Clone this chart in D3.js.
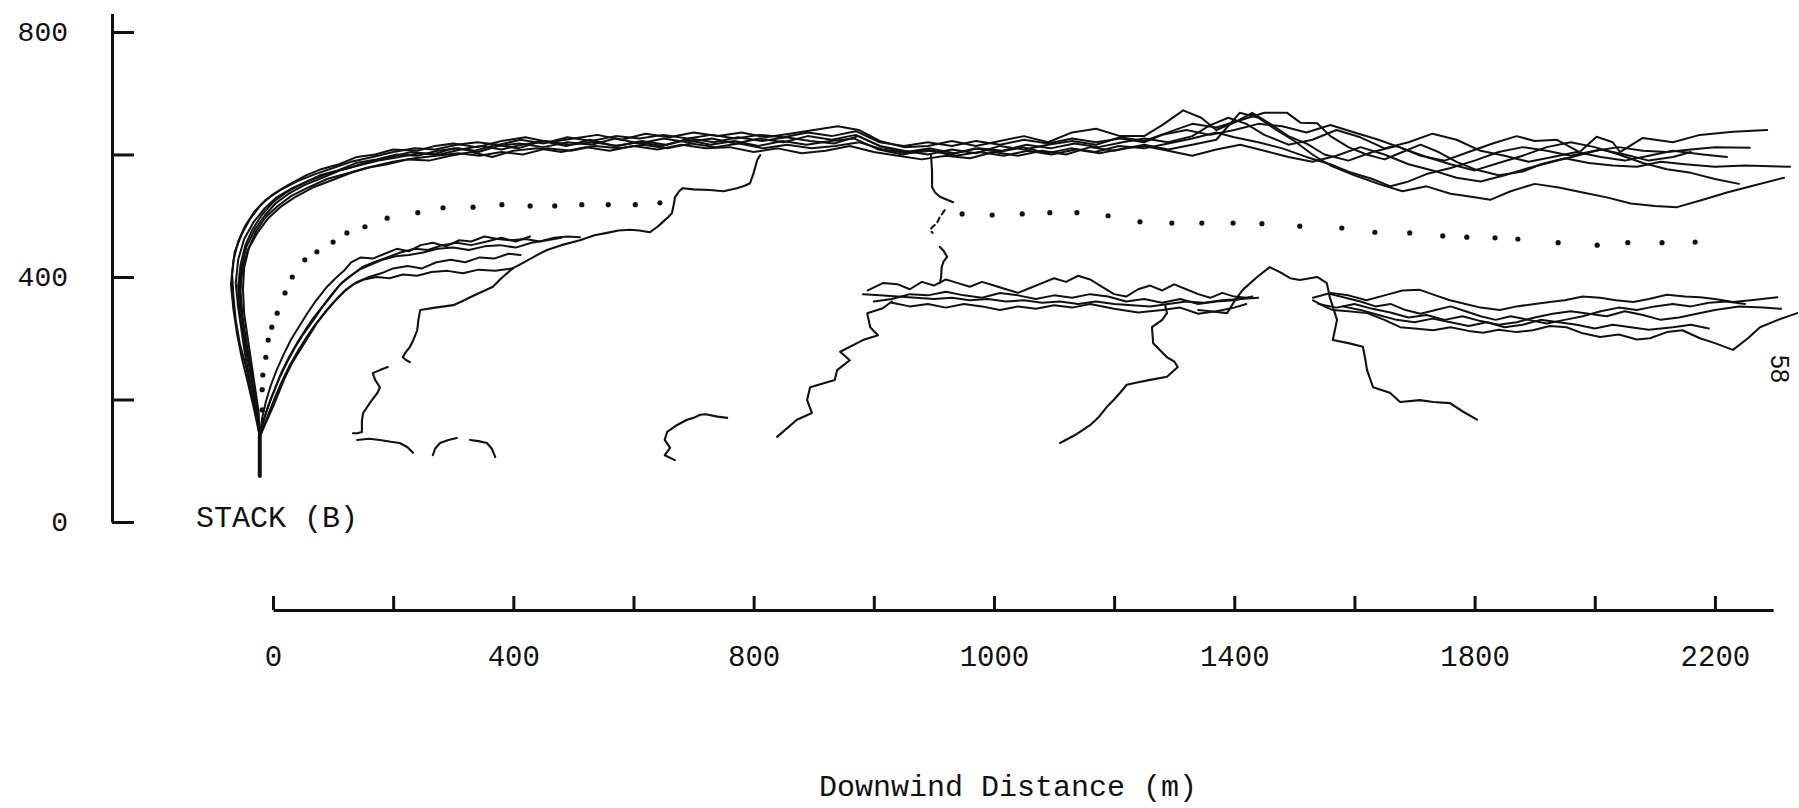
<!DOCTYPE html>
<html><head><meta charset="utf-8">
<script src="https://cdn.jsdelivr.net/npm/d3@7"></script>
<style>body{margin:0;background:#fff;} svg{display:block;background:#fff}</style>
</head><body><svg id="chart" width="1799" height="808"></svg>
<script>
// ---- axis ticks ----
const xTickValues = [0,200,400,600,800,1000,1200,1400,1600,1800,2000,2200,2400];
const xTickLabels = ["0","","400","","800","","1000","","1400","","1800","","2200"];
const yTickValues = [0,200,400,600,800];
const yTickLabels = ["0","","400","","800"];

// ---- stack ----
const stackLine = [[-22,75],[-22,140]];

// ---- upper plume boundary trajectories (downwind m, height m) ----
const upper1 = [[-22,140],[-28,175],[-36,210],[-44,250],[-55,290],[-62,330],[-66,370],[-68,405],[-64,440],[-52,470],[-38,495],[-20,518],[0,535],[25,550],[55,566],[80,576],[110,584],[140,596],[170,600],[200,608],[240,606],[270,614],[300,618],[340,612],[380,622],[420,628],[460,620],[500,626],[540,632],[580,624],[620,634],[660,628],[700,636],[740,630],[780,636],[820,628],[860,634],[900,640],[940,646],[975,640],[1010,622],[1050,612],[1090,614],[1130,622],[1170,614],[1210,622],[1250,630],[1290,620],[1330,636],[1370,642],[1410,630],[1450,630],[1480,648],[1515,672],[1545,660],[1570,640],[1600,652],[1630,668],[1660,650],[1690,630],[1720,618],[1750,600],[1790,590],[1830,604],[1870,614],[1910,598],[1950,590],[1990,604],[2030,618],[2070,630],[2100,622],[2137,624],[2175,604],[2203,629],[2230,620],[2242,604],[2280,627],[2330,620],[2375,632],[2430,637],[2487,640]];
const upper2 = [[-22,140],[-24,180],[-30,220],[-36,260],[-42,300],[-48,340],[-50,380],[-48,415],[-40,448],[-28,475],[-12,498],[8,516],[30,532],[58,546],[90,560],[120,568],[155,578],[190,584],[225,592],[260,590],[295,598],[330,604],[365,596],[400,606],[440,610],[480,604],[520,612],[560,606],[600,614],[640,608],[680,616],[720,610],[760,612],[800,604],[840,610],[880,602],[920,606],[960,614],[1000,604],[1040,598],[1080,592],[1120,598],[1160,594],[1200,604],[1240,598],[1280,606],[1320,600],[1360,612],[1400,606],[1450,616],[1490,608],[1530,616],[1570,624],[1609,668],[1640,660],[1670,640],[1700,622],[1730,600],[1760,582],[1800,566],[1840,552],[1880,540],[1920,548],[1960,536],[2000,530],[2026,526],[2060,540],[2100,552],[2140,546],[2180,538],[2220,530],[2260,520],[2300,516],[2337,514],[2380,526],[2420,538],[2460,548],[2515,562]];
const upper3 = [[-22,140],[-26,185],[-34,225],[-42,265],[-50,305],[-56,345],[-58,385],[-54,420],[-46,452],[-34,478],[-18,502],[0,522],[22,538],[48,552],[78,566],[108,574],[138,586],[172,592],[206,600],[240,598],[274,606],[308,610],[342,604],[376,614],[410,618],[450,612],[490,620],[530,616],[570,626],[610,618],[650,626],[690,620],[730,626],[770,618],[810,626],[850,620],[890,630],[930,624],[970,632],[1010,614],[1050,606],[1090,600],[1130,608],[1170,602],[1210,614],[1250,608],[1290,616],[1330,622],[1370,616],[1410,628],[1450,622],[1490,636],[1530,650],[1570,644],[1610,656],[1650,668],[1688,668],[1710,652],[1738,651],[1760,630],[1790,612],[1820,600],[1850,592],[1880,604],[1910,616],[1940,604],[1970,588],[2000,576],[2040,566],[2080,572],[2110,584],[2150,594],[2190,586],[2230,582],[2270,580],[2310,588],[2350,584],[2400,580],[2450,582],[2525,580]];
const upper4 = [[-22,140],[-30,190],[-38,230],[-46,270],[-52,310],[-58,350],[-62,390],[-58,428],[-48,462],[-32,490],[-14,512],[6,530],[30,544],[62,558],[94,570],[126,578],[160,588],[196,596],[230,604],[266,600],[300,610],[336,606],[372,616],[408,610],[448,622],[488,614],[528,624],[568,614],[608,620],[648,614],[688,624],[728,616],[768,622],[808,614],[848,622],[888,616],[928,622],[968,626],[1008,608],[1048,600],[1088,608],[1128,600],[1168,610],[1208,604],[1248,612],[1288,602],[1328,610],[1368,604],[1408,614],[1450,610],[1490,618],[1530,626],[1570,636],[1600,628],[1640,620],[1680,610],[1720,596],[1760,584],[1790,572],[1830,560],[1860,548],[1890,556],[1920,568],[1960,578],[2000,590],[2040,604],[2080,612],[2120,606],[2160,598],[2200,606],[2240,612],[2280,606],[2320,604],[2360,608],[2400,612],[2458,611]];
const upper5 = [[-22,140],[-27,182],[-33,222],[-40,262],[-47,302],[-53,342],[-56,382],[-52,418],[-44,450],[-30,478],[-14,500],[4,520],[26,536],[52,550],[82,562],[112,574],[142,582],[176,590],[210,596],[244,602],[278,600],[312,608],[346,614],[380,608],[414,616],[454,622],[494,616],[534,620],[574,614],[614,622],[654,616],[694,626],[734,620],[774,628],[814,622],[854,628],[894,622],[934,618],[974,630],[1014,612],[1054,604],[1094,610],[1134,602],[1174,610],[1214,606],[1254,616],[1294,610],[1334,618],[1374,612],[1414,620],[1450,626],[1490,620],[1530,630],[1560,648],[1590,660],[1620,650],[1650,632],[1690,616],[1730,624],[1770,640],[1810,628],[1850,610],[1890,620],[1930,634],[1970,624],[2010,606],[2050,598],[2090,588],[2130,596],[2170,604],[2210,596],[2250,590],[2290,598],[2330,606],[2380,600],[2420,596]];
const upper6 = [[-22,140],[-25,178],[-31,218],[-38,258],[-45,298],[-51,338],[-54,378],[-51,412],[-42,444],[-26,472],[-8,496],[12,514],[36,530],[66,546],[98,558],[130,570],[164,580],[200,588],[236,594],[272,598],[308,602],[344,598],[380,604],[416,600],[456,610],[496,606],[536,614],[576,610],[616,616],[656,610],[696,618],[736,612],[776,618],[816,610],[856,616],[896,610],[936,614],[976,620],[1016,608],[1056,602],[1096,606],[1136,598],[1176,604],[1216,598],[1256,606],[1296,600],[1336,608],[1376,602],[1416,610],[1450,614],[1490,606],[1530,598],[1570,608],[1610,616],[1650,606],[1690,596],[1730,588],[1770,598],[1810,612],[1850,600],[1890,584],[1930,574],[1970,562],[2010,556],[2050,566],[2090,578],[2130,588],[2170,598],[2210,608],[2250,600],[2290,590],[2330,596],[2360,604]];
const upper7 = [[-22,140],[-32,186],[-42,228],[-52,268],[-60,308],[-66,348],[-70,388],[-66,426],[-58,458],[-46,484],[-30,508],[-12,526],[12,542],[40,556],[70,568],[100,578],[130,588],[166,596],[200,604],[236,610],[270,608],[306,616],[340,620],[376,616],[412,624],[450,618],[490,628],[530,622],[570,630],[610,626],[650,632],[690,626],[730,632],[770,626],[810,632],[850,628],[890,636],[930,630],[970,638],[1010,620],[1050,614],[1090,620],[1130,614],[1170,622],[1210,616],[1250,624],[1290,618],[1330,626],[1370,620],[1410,626],[1450,620],[1480,632],[1520,640],[1560,632],[1600,640],[1640,650],[1680,646],[1720,636],[1760,648],[1800,636],[1840,624],[1880,610],[1920,596],[1960,584],[2000,574],[2040,586],[2080,598],[2120,612],[2160,620],[2200,612],[2240,600],[2280,586],[2320,576],[2360,570],[2400,560],[2440,552]];

// ---- lower plume boundary trajectories (near field) ----
const lower1 = [[-22,139],[-14,160],[-4,185],[6,210],[16,232],[28,256],[42,280],[56,302],[70,322],[86,342],[102,360],[118,376],[134,388],[152,396],[172,400],[194,398],[216,404],[240,402],[264,408],[290,410],[316,406],[342,412],[370,410],[399,414]];
const lower2 = [[-22,139],[-16,165],[-8,190],[2,214],[12,238],[24,262],[36,284],[50,306],[66,328],[80,348],[96,368],[110,386],[126,400],[144,412],[162,420],[182,428],[204,434],[226,436],[250,440],[274,446],[300,448],[326,444],[352,450],[378,452],[404,448],[430,456],[456,460],[480,464]];
const lower3 = [[-22,139],[-18,170],[-12,196],[-4,222],[6,248],[18,274],[30,298],[44,320],[58,342],[72,362],[88,382],[104,398],[118,410],[130,424],[146,432],[166,430],[186,438],[206,446],[226,442],[246,452],[266,456],[288,450],[310,460],[330,458],[352,466],[374,462],[396,460],[420,462],[444,458],[468,464],[490,466],[511,465]];
const lower4 = [[-22,139],[-12,162],[0,188],[10,212],[20,236],[32,260],[46,282],[60,304],[74,326],[90,346],[106,364],[122,380],[140,392],[160,400],[180,406],[200,414],[224,418],[248,414],[272,424],[296,428],[320,424],[344,432],[368,430],[392,438],[412,436]];
const lower5 = [[-22,139],[-15,168],[-6,194],[4,220],[14,244],[26,268],[40,292],[54,314],[68,334],[84,354],[98,372],[114,390],[130,402],[148,416],[168,424],[190,432],[212,440],[236,446],[258,444],[282,452],[306,456],[330,452],[356,458],[380,464],[404,458],[428,466]];
const connector = [[399,414],[420,425],[440,436],[456,444],[480,452],[511,460],[535,468],[556,472],[575,476],[594,477],[610,476],[627,473],[640,482],[649,490],[658,498],[664,504],[667,518],[669,530],[676,540],[682,545],[700,543],[727,542],[750,540],[772,545],[785,549],[794,553],[800,570],[806,591],[811,599]];
const branch1 = [[399,414],[380,398],[366,384],[348,376],[328,367],[314,360],[300,354],[270,350],[245,346],[242,330],[240,313],[234,298],[228,286],[220,276],[216,269],[222,264],[228,261]];
const branch2 = [[191,253],[178,248],[166,243],[170,232],[178,220],[174,211],[164,198],[150,178],[148,165],[148,147],[140,145],[133,145]];
const squiggle1 = [[140,134],[160,136],[178,134],[196,131],[211,129],[224,122],[233,113]];
const squiggle2 = [[266,109],[270,120],[278,129],[292,134],[306,137]];
const squiggle3 = [[328,134],[342,132],[356,129],[364,120],[370,106]];
const squiggle4 = [[756,170],[740,172],[720,176],[711,175],[700,170],[689,167],[672,158],[656,147],[652,134],[661,121],[652,109],[669,101]];

// ---- drop from upper band to middle band ----
const drop1 = [[1095,600],[1096,588],[1097,570],[1097,547],[1102,538],[1110,531],[1122,526],[1132,522]];
const drop2 = [[1118,509],[1110,498],[1105,488],[1096,480],[1094,476],[1098,472]];
const drop3 = [[1110,449],[1116,443],[1122,433],[1116,425],[1113,416],[1112,400],[1110,390]];

// ---- middle lower band ----
const mid1 = [[982,372],[1010,370],[1040,368],[1070,366],[1100,364],[1130,366],[1160,362],[1190,364],[1220,360],[1250,362],[1280,358],[1310,360],[1340,356],[1370,360],[1400,356],[1430,354],[1460,352],[1490,356],[1520,360],[1550,358],[1580,362],[1610,364],[1640,366]];
const mid2 = [[990,378],[1015,390],[1040,388],[1060,380],[1080,392],[1100,386],[1120,396],[1140,390],[1160,384],[1180,392],[1200,386],[1220,380],[1240,374],[1260,382],[1280,390],[1300,398],[1320,392],[1340,402],[1360,396],[1380,384],[1400,372],[1420,368],[1440,380],[1460,386],[1480,378],[1500,388],[1520,380],[1540,372],[1560,366],[1580,374],[1600,368],[1620,366]];
const mid3 = [[1000,360],[1030,364],[1060,372],[1090,370],[1120,376],[1150,370],[1180,366],[1210,374],[1240,370],[1270,364],[1300,370],[1330,366],[1360,372],[1390,368],[1420,360],[1450,364],[1480,358],[1510,364],[1540,356],[1570,360],[1600,362],[1630,368]];
const mid4 = [[1030,358],[1060,352],[1090,356],[1120,350],[1150,356],[1180,352],[1210,346],[1240,352],[1270,348],[1300,354],[1330,350],[1360,356],[1400,348],[1440,342],[1480,346],[1510,350],[1540,340],[1570,344],[1600,350],[1620,356]];
const branch3 = [[1030,360],[1015,349],[989,341],[994,318],[1007,305],[982,297],[944,278],[960,264],[939,248],[935,232],[894,220],[889,199],[897,178],[872,167],[839,139]];
const branch4 = [[1310,129],[1335,142],[1360,158],[1375,172],[1388,188],[1400,200],[1410,211],[1421,224],[1440,228],[1460,232],[1488,237],[1506,253],[1500,262],[1488,269],[1465,292],[1463,318],[1480,330],[1488,341],[1485,354]];
const peakLine = [[1540,346],[1560,344],[1588,341],[1600,360],[1614,379],[1638,400],[1659,416],[1676,408],[1693,398],[1709,395],[1738,400],[1754,390],[1759,367],[1771,330],[1764,297],[1790,292],[1814,286],[1818,266],[1821,248],[1831,220],[1859,211],[1876,196],[1909,199],[1931,196],[1959,194],[1981,180],[2004,167]];

// ---- far-field lower band ----
const right1 = [[1731,362],[1750,352],[1764,346],[1790,344],[1821,341],[1850,330],[1876,318],[1900,316],[1931,313],[1960,318],[1990,312],[2014,309],[2040,314],[2070,310],[2097,313],[2125,320],[2153,318],[2180,308],[2209,302],[2240,306],[2270,298],[2292,300],[2320,310],[2346,313],[2375,300],[2400,292],[2430,281],[2455,300],[2475,318],[2505,330],[2537,341]];
const right2 = [[1731,366],[1760,374],[1790,370],[1820,362],[1850,370],[1880,378],[1909,379],[1935,370],[1959,362],[1985,356],[2010,350],[2042,346],[2070,352],[2100,356],[2125,359],[2150,362],[2180,368],[2209,366],[2235,362],[2264,359],[2290,364],[2320,371],[2350,368],[2375,367],[2400,364],[2430,359],[2460,362],[2504,367]];
const right3 = [[1740,356],[1770,350],[1800,356],[1830,348],[1860,342],[1890,334],[1920,338],[1950,330],[1980,336],[2010,328],[2040,322],[2070,326],[2100,334],[2130,340],[2160,344],[2190,340],[2220,336],[2250,344],[2280,338],[2310,330],[2340,334],[2370,340],[2400,346],[2440,352],[2480,350],[2510,348]];
const right4 = [[1760,372],[1785,366],[1810,360],[1835,352],[1860,356],[1885,346],[1910,340],[1935,346],[1960,352],[1985,344],[2010,336],[2035,330],[2060,336],[2090,330],[2120,324],[2150,330],[2180,336],[2210,344],[2240,350],[2270,346],[2300,352],[2330,356],[2360,352],[2390,358],[2420,360],[2450,356]];
const right5 = [[1780,352],[1810,346],[1840,338],[1870,330],[1900,326],[1930,332],[1960,326],[1990,320],[2020,326],[2050,318],[2080,322],[2110,330],[2140,326],[2170,322],[2200,316],[2230,322],[2260,318],[2290,314],[2330,318],[2360,322],[2390,316]];

// ---- plume centreline (dots) ----
const centreLeft = [[-18,183],[-18,216],[-17,240],[-12,269],[-8,297],[-2,318],[7,341],[20,374],[32,400],[53,428],[73,441],[100,457],[123,472],[153,482],[190,496],[241,505],[283,513],[333,514],[381,518],[428,516],[469,516],[514,518],[558,518],[603,518],[644,521]];
const centreRight = [[1147,503],[1197,501],[1247,503],[1293,505],[1338,505],[1390,500],[1443,490],[1496,488],[1546,488],[1598,488],[1646,487],[1709,483],[1779,480],[1834,473],[1892,472],[1947,467],[1987,465],[2034,464],[2072,462],[2139,456],[2204,452],[2255,456],[2312,456],[2367,457]];

// ================= drawing =================
const svg = d3.select("#chart");
svg.append("rect").attr("width",1799).attr("height",808).attr("fill","#fff");
const x = d3.scaleLinear().domain([0,2497]).range([273,1773.2]);
const y = d3.scaleLinear().domain([0,830]).range([522,13.6]);
const ink = "#111";
const mono = "'Liberation Mono','DejaVu Sans Mono',monospace";

// y axis
const gy = svg.append("g").attr("transform","translate(112,0)")
  .call(d3.axisLeft(y).tickValues(yTickValues).tickFormat((d,i)=>yTickLabels[i])
    .tickSizeInner(-22).tickSizeOuter(0).tickPadding(44));
gy.select(".domain").attr("stroke",ink).attr("stroke-width",3);
gy.selectAll(".tick line").attr("stroke",ink).attr("stroke-width",3);
gy.selectAll(".tick text").attr("fill",ink).style("font-family",mono).style("font-size","28px");

// x axis
const gx = svg.append("g").attr("transform","translate(0,610)")
  .call(d3.axisBottom(x).tickValues(xTickValues).tickFormat((d,i)=>xTickLabels[i])
    .tickSizeInner(-14).tickSizeOuter(0).tickPadding(35));
gx.select(".domain").attr("stroke",ink).attr("stroke-width",3);
gx.selectAll(".tick line").attr("stroke",ink).attr("stroke-width",3);
gx.selectAll(".tick text").attr("fill",ink).style("font-family",mono).style("font-size","29px");

const line = d3.line().x(d=>x(d[0])).y(d=>y(d[1]));
function draw(data, w, dash){
  const p = svg.append("path").datum(data).attr("d",line)
    .attr("fill","none").attr("stroke",ink).attr("stroke-width",w)
    .attr("stroke-linejoin","round").attr("stroke-linecap","round");
  if (dash) p.attr("stroke-dasharray",dash);
}
draw(stackLine,4);
[upper1,upper2,upper3,upper4,upper5,upper6,upper7].forEach(d=>draw(d,2));
[lower1,lower2,lower3,lower4,lower5].forEach(d=>draw(d,2));
[connector,branch1,branch2,squiggle1,squiggle2,squiggle3,squiggle4].forEach(d=>draw(d,2.1));
draw(drop1,2.1); draw(drop2,2.1,"5,4"); draw(drop3,2.1);
[mid1,mid2,mid3,mid4].forEach(d=>draw(d,2));
[branch3,branch4,peakLine].forEach(d=>draw(d,2.1));
[right1,right2,right3,right4,right5].forEach(d=>draw(d,2));

svg.append("g").selectAll("circle").data(centreLeft.concat(centreRight)).join("circle")
  .attr("cx",d=>x(d[0])).attr("cy",d=>y(d[1])).attr("r",2.6).attr("fill",ink);

// texts
svg.append("text").attr("x",196).attr("y",527).text("STACK (B)")
  .attr("fill",ink).style("font-family",mono).style("font-size","30px");
svg.append("text").attr("x",1008).attr("y",796).attr("text-anchor","middle").text("Downwind Distance (m)")
  .attr("fill",ink).style("font-family",mono).style("font-size","30px");
svg.append("text").attr("transform","translate(1780,369) rotate(90)").attr("text-anchor","middle")
  .attr("dominant-baseline","central").text("58")
  .attr("fill",ink).style("font-family","'Liberation Sans',Arial,sans-serif").style("font-size","25px");
</script></body></html>
